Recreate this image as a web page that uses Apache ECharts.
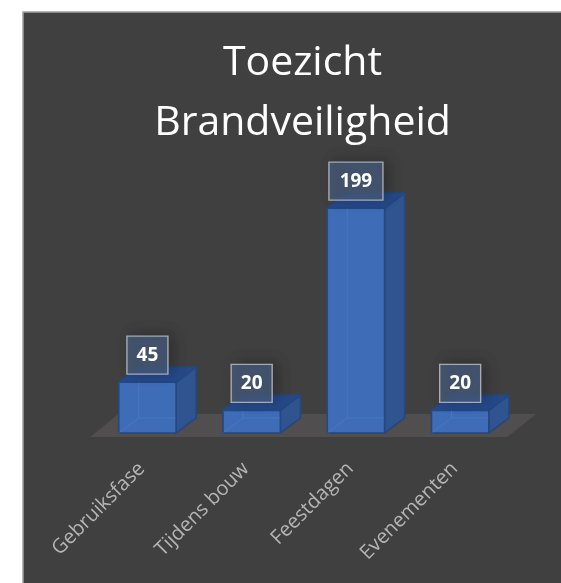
<!DOCTYPE html>
<html><head><meta charset="utf-8">
<style>html,body{margin:0;padding:0;background:#fff}#c{position:absolute;left:0;top:0;width:561px;height:583px}</style>
<script src="https://cdn.jsdelivr.net/npm/echarts@6/dist/echarts.min.js"></script>
</head><body><div id="c"></div>
<script>
const categories = ['Gebruiksfase', 'Tijdens bouw', 'Feestdagen', 'Evenementen'];
const values = [45, 20, 199, 20];
const titleLines = ['Toezicht', 'Brandveiligheid'];

const DX = 20, DY = 15;
const chart = echarts.init(document.getElementById('c'), null, {renderer: 'canvas'});

function renderBar(params, api) {
  const i = api.value(0), v = api.value(1);
  const base = api.coord([i, 0]), top = api.coord([i, v]);
  const w = api.size([1, 0])[0] * 0.55;
  const x0 = base[0] - w / 2, x1 = base[0] + w / 2, yb = base[1], yt = top[1];
  const edge = '#24487f';
  const line = {stroke: edge, lineWidth: 1.6, lineJoin: 'round'};
  const ghost = {stroke: 'rgba(120,160,220,0.22)', lineWidth: 1, fill: null};
  const bw = 15 + 13 * String(v).length;
  return {type: 'group', children: [
    {type: 'polygon', shape: {points: [[x1, yb], [x1 + DX, yb - DY], [x1 + DX, yt - DY], [x1, yt]]},
      style: Object.assign({fill: '#2f5490'}, line)},
    {type: 'polygon', shape: {points: [[x0, yt], [x1, yt], [x1 + DX, yt - DY], [x0 + DX, yt - DY]]},
      style: Object.assign({fill: '#27498a'}, line)},
    {type: 'rect', shape: {x: x0, y: yt, width: w, height: yb - yt},
      style: Object.assign({fill: '#3e6cb6'}, line)},
    {type: 'line', shape: {x1: x0 + DX, y1: yt, x2: x0 + DX, y2: yb - DY}, style: ghost},
    {type: 'line', shape: {x1: x0, y1: yb, x2: x0 + DX, y2: yb - DY}, style: ghost},
    {type: 'line', shape: {x1: x0 + DX, y1: yb - DY, x2: x1, y2: yb - DY}, style: ghost},
    {type: 'rect', shape: {x: base[0] - bw / 2, y: yt - 46, width: bw, height: 38},
      style: {fill: 'rgba(72,92,125,0.78)', stroke: '#a6abb3', lineWidth: 1.4,
        shadowBlur: 14, shadowColor: 'rgba(0,0,0,0.3)', shadowOffsetX: 5, shadowOffsetY: -2}},
    {type: 'text', x: base[0], y: yt - 27,
      style: {text: String(v), fill: '#fff', font: 'bold 19px "Open Sans"', align: 'center', verticalAlign: 'middle'}}
  ]};
}

function renderFloor(params, api) {
  if (params.dataIndex !== 0) return null;
  const cs = params.coordSys;
  const yb = cs.y + cs.height;
  return {type: 'polygon', z2: -1, shape: {points: [
    [cs.x - 5, yb + 4], [cs.x + cs.width - 5, yb + 4],
    [cs.x + cs.width + 24, yb - 19], [cs.x + 23, yb - 19]
  ]}, style: {fill: '#504e4e'}};
}

chart.setOption({
  animation: false,
  backgroundColor: '#fff',
  graphic: [{type: 'rect', z: -10, silent: true,
    shape: {x: 23, y: 12, width: 600, height: 620},
    style: {fill: '#404040', stroke: '#a0a0a0', lineWidth: 1.5}}],
  title: {text: titleLines.join('\n'), left: 297.5, top: 28, textAlign: 'center',
    textStyle: {color: '#fff', fontFamily: 'Open Sans', fontWeight: 'normal', fontSize: 41, lineHeight: 60}},
  grid: {left: 95.3, width: 417, top: 184.4, height: 248.6, containLabel: false},
  xAxis: {type: 'category', data: categories,
    axisLine: {show: false}, axisTick: {show: false},
    axisLabel: {rotate: 45, color: '#b4b4b4', fontFamily: 'Open Sans', fontSize: 20, margin: 27, padding: [0, 8, 0, 0], interval: 0}},
  yAxis: {type: 'value', min: 0, max: 220, show: false, splitLine: {show: false}},
  series: [
    {type: 'custom', renderItem: renderFloor, data: values.map((v, i) => [i, v]), z: 1, silent: true},
    {type: 'custom', renderItem: renderBar, data: values.map((v, i) => [i, v]), z: 2,
     encode: {x: 0, y: 1}}
  ]
});
</script></body></html>
